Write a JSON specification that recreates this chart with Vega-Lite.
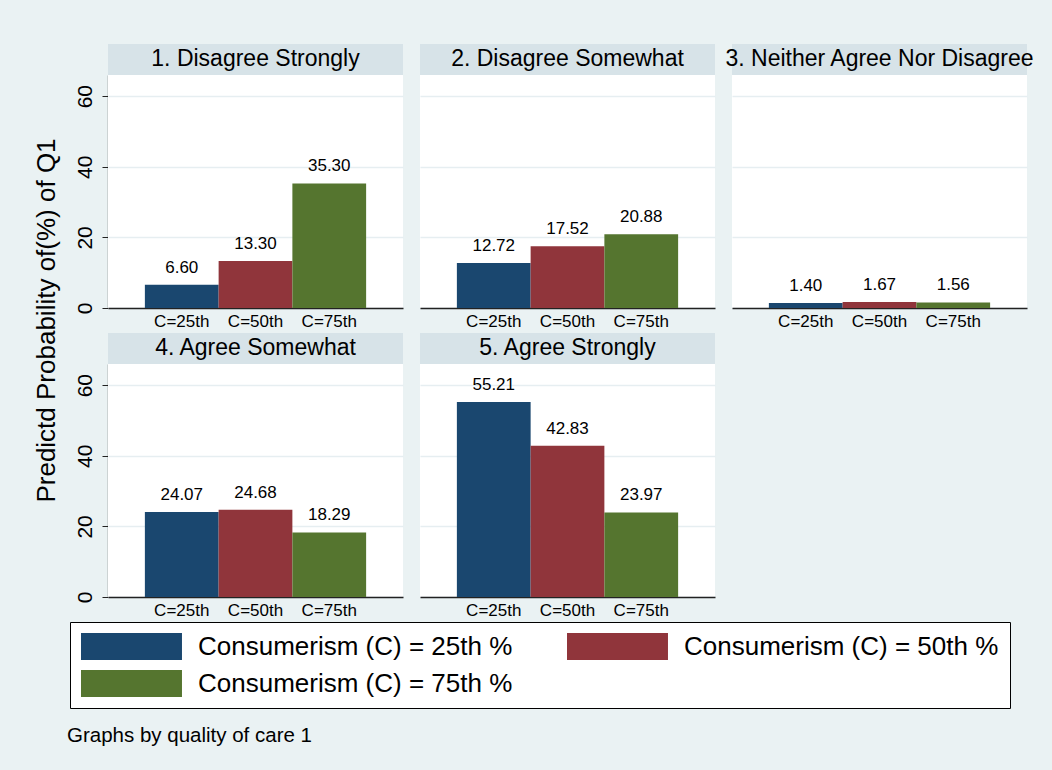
{
  "$schema": "https://vega.github.io/schema/vega-lite/v6.json",
  "autosize": {"type": "none"},
  "padding": {"left": 34, "top": 44, "right": 1018, "bottom": 726},
  "background": "#EAF2F3",
  "title": {
    "text": "Graphs by quality of care 1",
    "orient": "bottom",
    "anchor": "start",
    "frame": "group",
    "dx": 33,
    "offset": 33,
    "baseline": "alphabetic",
    "fontSize": 20.5,
    "fontWeight": "normal",
    "color": "#000000",
    "font": "Liberation Sans"
  },
  "bounds": "flush",
  "spacing": 48,
  "hconcat": [
    {
      "data": {"values": [{"label": "Predictd Probability of(%) of Q1"}]},
      "width": 26,
      "height": 553,
      "view": {"fill": "transparent", "stroke": null},
      "mark": {"type": "text", "angle": 270, "fontSize": 26, "baseline": "middle", "align": "center", "color": "#000000"},
      "encoding": {"text": {"field": "label", "type": "nominal"}}
    },
    {
      "data": {"values": [
        {"panel": "1. Disagree Strongly", "level": "C=25th", "series": "Consumerism (C) = 25th %", "value": 6.60},
        {"panel": "1. Disagree Strongly", "level": "C=50th", "series": "Consumerism (C) = 50th %", "value": 13.30},
        {"panel": "1. Disagree Strongly", "level": "C=75th", "series": "Consumerism (C) = 75th %", "value": 35.30},
        {"panel": "2. Disagree Somewhat", "level": "C=25th", "series": "Consumerism (C) = 25th %", "value": 12.72},
        {"panel": "2. Disagree Somewhat", "level": "C=50th", "series": "Consumerism (C) = 50th %", "value": 17.52},
        {"panel": "2. Disagree Somewhat", "level": "C=75th", "series": "Consumerism (C) = 75th %", "value": 20.88},
        {"panel": "3. Neither Agree Nor Disagree", "level": "C=25th", "series": "Consumerism (C) = 25th %", "value": 1.40},
        {"panel": "3. Neither Agree Nor Disagree", "level": "C=50th", "series": "Consumerism (C) = 50th %", "value": 1.67},
        {"panel": "3. Neither Agree Nor Disagree", "level": "C=75th", "series": "Consumerism (C) = 75th %", "value": 1.56},
        {"panel": "4. Agree Somewhat", "level": "C=25th", "series": "Consumerism (C) = 25th %", "value": 24.07},
        {"panel": "4. Agree Somewhat", "level": "C=50th", "series": "Consumerism (C) = 50th %", "value": 24.68},
        {"panel": "4. Agree Somewhat", "level": "C=75th", "series": "Consumerism (C) = 75th %", "value": 18.29},
        {"panel": "5. Agree Strongly", "level": "C=25th", "series": "Consumerism (C) = 25th %", "value": 55.21},
        {"panel": "5. Agree Strongly", "level": "C=50th", "series": "Consumerism (C) = 50th %", "value": 42.83},
        {"panel": "5. Agree Strongly", "level": "C=75th", "series": "Consumerism (C) = 75th %", "value": 23.97}
      ]},
      "facet": {
        "field": "panel",
        "type": "nominal",
        "sort": ["1. Disagree Strongly", "2. Disagree Somewhat", "3. Neither Agree Nor Disagree", "4. Agree Somewhat", "5. Agree Strongly"],
        "header": {"title": null, "labels": false, "labelExpr": "''", "labelFontSize": 0, "labelPadding": 0, "labelColor": "transparent"}
      },
      "columns": 3,
      "spacing": {"row": 25, "column": 17},
      "bounds": "flush",
      "resolve": {"axis": {"x": "independent"}},
      "spec": {
        "width": 295,
        "height": 264,
        "layer": [
          {
            "transform": [{"filter": "datum.level === 'C=25th'"}],
            "mark": {"type": "rect", "color": "#D7E3E8"},
            "encoding": {
              "y": {"datum": 66, "type": "quantitative", "scale": {"domain": [0, 66], "range": [264, 31], "nice": false, "zero": true}},
              "y2": {"datum": 74.8}
            }
          },
          {
            "transform": [{"filter": "datum.level === 'C=25th'"}],
            "mark": {"type": "text", "fontSize": 23, "baseline": "middle", "align": "center", "color": "#000000"},
            "encoding": {
              "y": {"datum": 70.4, "type": "quantitative"},
              "text": {"field": "panel", "type": "nominal"}
            }
          },
          {
            "mark": {"type": "bar"},
            "encoding": {
              "x": {
                "field": "level", "type": "nominal", "sort": ["C=25th", "C=50th", "C=75th"],
                "scale": {"paddingInner": 0, "paddingOuter": 0.5},
                "axis": {"title": null, "labelAngle": 0, "ticks": false, "tickSize": 0, "labelPadding": 5, "labelFontSize": 17, "labelColor": "#000000", "domainColor": "#222222", "domainWidth": 1.3, "grid": false}
              },
              "y": {
                "field": "value", "type": "quantitative",
                "scale": {"domain": [0, 66], "range": [264, 31], "nice": false, "zero": true},
                "axis": {"title": null, "values": [0, 20, 40, 60], "grid": true, "gridColor": "#E6EEF1", "gridWidth": 1.5, "domainColor": "#222222", "domainWidth": 1.3, "tickColor": "#222222", "tickSize": 6, "labelAngle": 270, "labelAlign": "center", "labelBaseline": "alphabetic", "labelPadding": 11, "labelFontSize": 21, "labelColor": "#000000"}
              },
              "color": {
                "field": "series", "type": "nominal",
                "scale": {"domain": ["Consumerism (C) = 25th %", "Consumerism (C) = 50th %", "Consumerism (C) = 75th %"], "range": ["#1A476F", "#90353B", "#55752F"]},
                "legend": {
                  "orient": "none", "legendX": 36, "legendY": 578,
                  "direction": "horizontal",
                  "columns": 2, "title": null,
                  "symbolType": "M-1,-1H6.48V1H-1Z", "symbolSize": 729, "symbolStrokeWidth": 0, "symbolOpacity": 1,
                  "labelFontSize": 26, "labelColor": "#000000", "labelOffset": 90, "labelLimit": 600, "labelBaseline": "middle",
                  "columnPadding": 54, "rowPadding": 10, "padding": 11,
                  "strokeColor": "#000000", "fillColor": "#FFFFFF"
                }
              }
            }
          },
          {
            "mark": {"type": "text", "fontSize": 17, "baseline": "alphabetic", "align": "center", "dy": -12, "color": "#000000"},
            "encoding": {
              "x": {"field": "level", "type": "nominal", "sort": ["C=25th", "C=50th", "C=75th"]},
              "y": {"field": "value", "type": "quantitative"},
              "text": {"field": "value", "type": "quantitative", "format": ".2f"}
            }
          }
        ]
      }
    }
  ],
  "config": {
    "font": "Liberation Sans",
    "view": {"stroke": null, "fill": "#FFFFFF"},
    "headerFacet": {"labels": false, "title": null},
    "header": {"labels": false, "title": null}
  }
}
